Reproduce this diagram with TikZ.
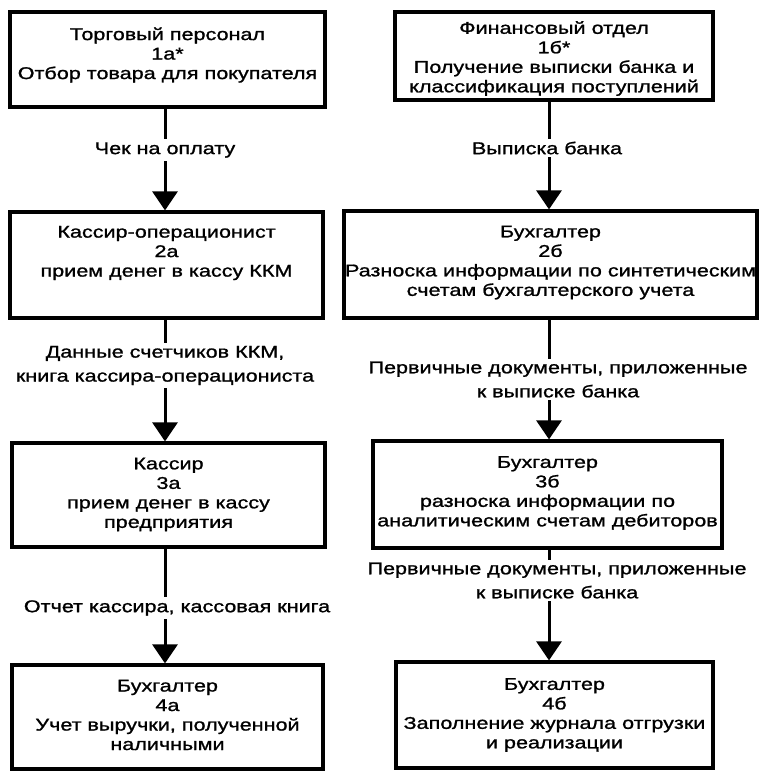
\documentclass[tikz,border=0pt]{standalone}
\usepackage{fontspec}
\setmainfont{Liberation Sans}[FakeStretch=1.27, FakeBold=1.2]
\usetikzlibrary{arrows.meta,calc}

\tikzset{
  box/.style={draw, line width=3.2pt, inner sep=0pt},
  txt/.style={align=center, inner sep=0pt, font=\fontsize{17}{19.5}\selectfont},
  lbl/.style={align=center, fill=white, inner xsep=2pt, inner ysep=3pt, font=\fontsize{17}{24}\selectfont},
  flow/.style={line width=3pt, -{Triangle[width=25pt,length=19pt]}},
}

\begin{document}
\begin{tikzpicture}[x=1pt, y=-1pt]
\useasboundingbox (0,0) rectangle (759,771);

% columns of the connectors
\coordinate (xl) at (165,0);
\coordinate (xr) at (549,0);

% left column: cash sales
\node[box, minimum width=315pt, minimum height=95pt] (a1) at (167.5,59.5) {};
\node[txt] (a1t) at (167.5,55) {Торговый персонал\\1а*\\Отбор товара для покупателя};

\node[box, minimum width=313pt, minimum height=106pt] (a2) at (166.5,265) {};
\node[txt] (a2t) at (166.5,253) {Кассир-операционист\\2а\\прием денег в кассу ККМ};

\node[box, minimum width=313pt, minimum height=104pt] (a3) at (168.5,495) {};
\node[txt] (a3t) at (168.5,494.5) {Кассир\\3а\\прием денег в кассу\\предприятия};

\node[box, minimum width=311pt, minimum height=104pt] (a4) at (167.5,717) {};
\node[txt] (a4t) at (167.5,715) {Бухгалтер\\4а\\Учет выручки, полученной\\наличными};

% right column: bank receipts
\node[box, minimum width=318pt, minimum height=88pt] (b1) at (554,56) {};
\node[txt] (b1t) at (554,58.5) {Финансовый отдел\\1б*\\Получение выписки банка и\\классификация поступлений};

\node[box, minimum width=413pt, minimum height=107pt] (b2) at (550.5,264.5) {};
\node[txt] (b2t) at (550.5,262.5) {Бухгалтер\\2б\\Разноска информации по синтетическим\\счетам бухгалтерского учета};

\node[box, minimum width=349pt, minimum height=107pt] (b3) at (547.5,494.5) {};
\node[txt] (b3t) at (547.5,493) {Бухгалтер\\3б\\разноска информации по\\аналитическим счетам дебиторов};

\node[box, minimum width=317pt, minimum height=106pt] (b4) at (554.5,715) {};
\node[txt] (b4t) at (554.5,715) {Бухгалтер\\4б\\Заполнение журнала отгрузки\\и реализации};

% connectors, left
\draw[flow] (a1.south -| xl) -- (a2.north -| xl);
\node[lbl] (l1) at (165,150) {Чек на оплату};
\draw[flow] (a2.south -| xl) -- (a3.north -| xl);
\node[lbl] (l2) at (165,365.5) {Данные счетчиков ККМ,\\книга кассира-операциониста};
\draw[flow] (a3.south -| xl) -- (a4.north -| xl);
\node[lbl] (l3) at (177,608) {Отчет кассира, кассовая книга};

% connectors, right
\draw[flow] (b1.south -| xr) -- (b2.north -| xr);
\node[lbl] (r1) at (547,148) {Выписка банка};
\draw[flow] (b2.south -| xr) -- (b3.north -| xr);
\node[lbl] (r2) at (558,379.5) {Первичные документы, приложенные\\к выписке банка};
\draw[flow] (b3.south -| xr) -- (b4.north -| xr);
\node[lbl] (r3) at (557,580.5) {Первичные документы, приложенные\\к выписке банка};
\end{tikzpicture}
\end{document}
